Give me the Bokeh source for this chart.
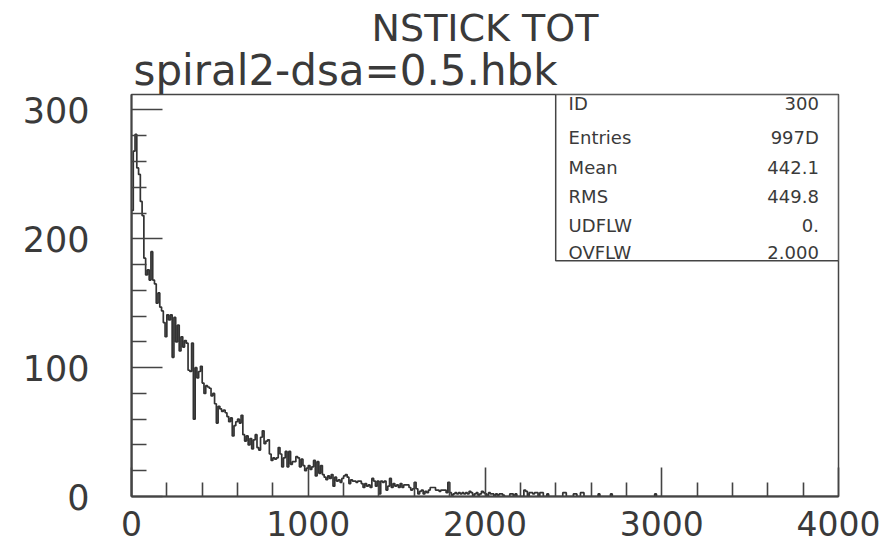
from bokeh.plotting import figure
from bokeh.models import FixedTicker, BoxAnnotation, Label, Range1d, Title
from bokeh.embed import file_html
from bokeh.resources import INLINE

# ---------------- data ----------------
bin_width = 10
x_low = 0
counts = [
    222, 268, 281, 255, 250, 229, 218, 185, 172, 176, 168, 190, 168, 165, 150, 158, 147, 144, 135, 124,
    141, 137, 141, 108, 139, 120, 133, 113, 124, 116, 121, 119, 98, 97, 119, 60, 100, 92, 97, 101,
    88, 80, 86, 85, 84, 78, 80, 72, 57, 70, 68, 66, 67, 65, 62, 58, 61, 47, 55, 58,
    60, 57, 63, 48, 43, 47, 40, 45, 37, 44, 48, 38, 36, 46, 51, 41, 43, 44, 33, 28,
    30, 29, 30, 38, 33, 23, 30, 35, 23, 35, 25, 27, 27, 31, 30, 23, 29, 24, 20, 22,
    24, 21, 23, 28, 16, 27, 18, 24, 17, 15, 13, 16, 14, 17, 8, 15, 12, 13, 11, 14,
    16, 17, 15, 10, 13, 12, 12, 11, 12, 12, 10, 7, 10, 8, 9, 7, 14, 12, 8, 12,
    2, 12, 11, 12, 5, 8, 14, 7, 10, 8, 9, 7, 10, 7, 9, 9, 9, 7, 5, 6,
    11, 6, 2, 4, 5, 2, 4, 3, 5, 7, 7, 7, 5, 5, 4, 5, 5, 5, 3, 11,
    3, 1, 2, 3, 2, 3, 2, 3, 2, 3, 2, 4, 3, 0, 2, 3, 1, 2, 4, 3,
    2, 0, 3, 2, 2, 0, 2, 1, 2, 2, 1, 0, 0, 0, 2, 2, 0, 2, 0, 0,
    0, 0, 5, 4, 0, 3, 3, 2, 3, 3, 0, 3, 3, 0, 0, 2, 0, 0, 0, 0,
    0, 0, 0, 0, 3, 3, 0, 0, 0, 0, 2, 2, 0, 0, 3, 3, 0, 0, 0, 0,
    0, 0, 0, 0, 2, 0, 0, 0, 0, 0, 0, 2, 0, 0, 0, 0, 0, 0, 0, 0,
    0, 0, 0, 0, 0, 0, 0, 0, 0, 0, 0, 0, 0, 0, 0, 0, 2, 0, 0, 0,
    0, 0, 0, 0, 0, 0, 0, 0, 0, 0, 0, 0, 0, 0, 0, 0, 0, 0, 0, 0,
    0, 0, 0, 0, 0, 0, 0, 0, 0, 0, 0, 0, 0, 0, 0, 0, 0, 0, 0, 0,
    0, 0, 0, 0, 0, 0, 0, 0, 0, 0, 0, 0, 0, 0, 0, 0, 0, 0, 0, 0,
    0, 0, 0, 0, 0, 0, 0, 0, 0, 0, 0, 0, 0, 0, 0, 0, 0, 0, 0, 0,
    0, 0, 0, 0, 0, 0, 0, 0, 0, 0, 0, 0, 0, 0, 0, 0, 0, 0, 0, 0,
]
x_major_ticks = [0, 1000, 2000, 3000, 4000]
x_minor_ticks = [200, 400, 600, 800, 1200, 1400, 1600, 1800, 2200, 2400, 2600, 2800,
                 3200, 3400, 3600, 3800]
y_major_ticks = [0, 100, 200, 300]
y_minor_ticks = [20, 40, 60, 80, 120, 140, 160, 180, 220, 240, 260, 280]
title_text = "NSTICK TOT"
subtitle_text = "spiral2-dsa=0.5.hbk"
stat_names = ["ID", "Entries", "Mean", "RMS", "UDFLW", "OVFLW"]
stat_values = ["300", "997D", "442.1", "449.8", "0.", "2.000"]

# ---------------- figure ----------------
X0, X1 = 0, 4000
Y0, Y1 = 0, 312
FONT = "DejaVu Sans"
TXT = "#3a3a3a"
LINE = "#333333"

p = figure(width=883, height=546, output_backend="svg", toolbar_location=None,
           title=None,
           x_range=Range1d(X0, X1), y_range=Range1d(Y0, Y1),
           min_border_left=131, min_border_right=45, min_border_top=94,
           min_border_bottom=50)
p.background_fill_color = "white"
p.border_fill_color = "white"
p.outline_line_color = "#444444"
p.outline_line_width = 1.5
p.xgrid.visible = False
p.ygrid.visible = False

# histogram outline (step)
xs, ys = [x_low], [0]
for i, c in enumerate(counts):
    e0 = x_low + i * bin_width
    xs += [e0, e0 + bin_width]
    ys += [c, c]
xs.append(x_low + len(counts) * bin_width)
ys.append(0)
p.line(xs, ys, line_color=LINE, line_width=1.7)

# axes
for ax in (p.xaxis[0], p.yaxis[0]):
    ax.axis_line_color = "#444444"
    ax.axis_line_width = 2
    ax.major_tick_line_color = "#444444"
    ax.minor_tick_line_color = "#444444"
    ax.major_tick_line_width = 1.6
    ax.minor_tick_line_width = 1.6
    ax.major_tick_out = 0
    ax.minor_tick_out = 0
    ax.major_label_text_font = FONT
    ax.major_label_text_color = TXT

p.xaxis.ticker = FixedTicker(ticks=x_major_ticks, minor_ticks=x_minor_ticks)
p.yaxis.ticker = FixedTicker(ticks=y_major_ticks, minor_ticks=y_minor_ticks)
p.xaxis.major_tick_in = 29
p.xaxis.minor_tick_in = 14
p.yaxis.major_tick_in = 31
p.yaxis.minor_tick_in = 15
p.yaxis.major_label_text_font_size = "35px"
p.xaxis.major_label_text_font_size = "33px"
p.yaxis.major_label_standoff = 42
p.xaxis.major_label_standoff = 14

# titles (subtitle closest to the frame, main title above it)
p.add_layout(Title(text=subtitle_text, align="left", offset=2, standoff=0,
                   text_font=FONT, text_font_size="42px", text_font_style="normal",
                   text_color=TXT), "above")
p.add_layout(Title(text=title_text, align="center", standoff=-12,
                   text_font=FONT, text_font_size="38px", text_font_style="normal",
                   text_color=TXT), "above")

# statistics box
p.add_layout(BoxAnnotation(left=2400, right=X1, bottom=183, top=Y1,
                           fill_color="white", fill_alpha=1.0,
                           line_color="#444444", line_width=1.5, line_alpha=1.0))
row_px = [103, 137, 167, 196, 225, 252]
for name, val, py in zip(stat_names, stat_values, row_px):
    yv = (496 - py) / 402 * (Y1 - Y0)
    p.add_layout(Label(x=2473, y=yv, text=name, text_align="left", text_baseline="middle",
                       text_font=FONT, text_font_size="18px", text_color=TXT))
    p.add_layout(Label(x=3889, y=yv, text=val, text_align="right", text_baseline="middle",
                       text_font=FONT, text_font_size="18px", text_color=TXT))

open("out.html", "w").write(file_html(p, INLINE))
